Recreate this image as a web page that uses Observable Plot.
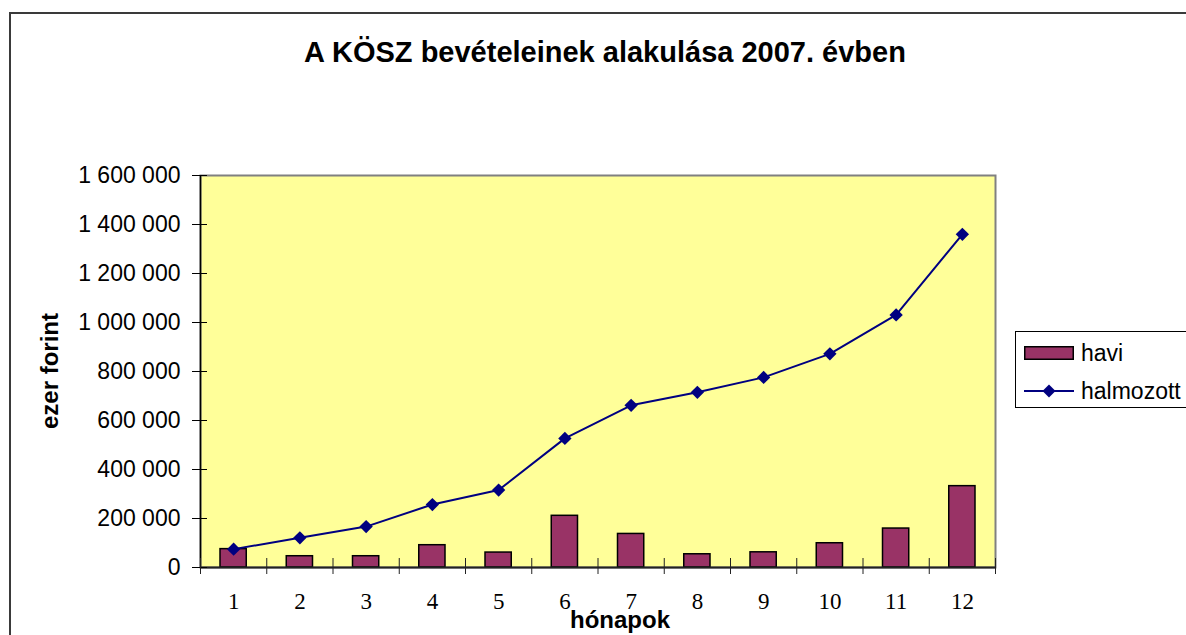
<!DOCTYPE html>
<html>
<head>
<meta charset="utf-8">
<script src="https://cdn.jsdelivr.net/npm/d3@7"></script>
<script src="https://cdn.jsdelivr.net/npm/@observablehq/plot@0.6"></script>
<style>
  html, body { margin: 0; padding: 0; background: white; }
  #wrap { position: relative; width: 1186px; height: 635px; overflow: hidden; background: white; font-family: "Liberation Sans", Arial, sans-serif; color: black; }
  #chart { position: absolute; left: 0; top: 0; }
  #border { position: absolute; left: 9px; top: 12px; width: 1300px; height: 800px; border-left: 2px solid #3a3a3a; border-top: 2px solid #3a3a3a; box-sizing: border-box; }
  #title { position: absolute; left: 605px; top: 38px; transform: translateX(-50%); font-size: 29px; line-height: 1; font-weight: bold; white-space: nowrap; }
  #ylab { position: absolute; left: 50px; top: 371px; transform: translate(-50%, -50%) rotate(-90deg); font-size: 24px; line-height: 1; font-weight: bold; white-space: nowrap; }
  #xlab { position: absolute; left: 620px; top: 608px; transform: translateX(-50%); font-size: 24px; line-height: 1; font-weight: bold; white-space: nowrap; }
  #legend { position: absolute; left: 1015px; top: 331px; width: 190px; height: 77px; border: 1px solid black; box-sizing: border-box; background: white; }
  .leg-item { position: absolute; left: 8px; height: 30px; display: flex; align-items: center; font-size: 23px; white-space: nowrap; }
  .leg-item svg { margin-right: 7px; }
</style>
</head>
<body>
<div id="wrap">
  <div id="chart"></div>
  <div id="border"></div>
  <div id="title">A KÖSZ bevételeinek alakulása 2007. évben</div>
  <div id="ylab">ezer forint</div>
  <div id="xlab">hónapok</div>
  <div id="legend">
    <div class="leg-item" style="top:6px">
      <svg width="50" height="14"><rect x="0.75" y="0.75" width="48.5" height="12.5" fill="#993366" stroke="black" stroke-width="1.5"></rect></svg><span id="leg1"></span>
    </div>
    <div class="leg-item" style="top:44px">
      <svg width="50" height="14"><line x1="0" y1="7" x2="50" y2="7" stroke="#000080" stroke-width="2"></line><path d="M25,0.5 L31.5,7 L25,13.5 L18.5,7 Z" fill="#000080"></path></svg><span id="leg2"></span>
    </div>
  </div>
</div>
<script>
// ---- data ----
const months = [1, 2, 3, 4, 5, 6, 7, 8, 9, 10, 11, 12];
const havi = [75000, 46000, 46000, 91000, 61000, 211000, 137000, 54000, 62000, 99000, 159000, 332000];
const halmozott = [75000, 121000, 167000, 257000, 316000, 527000, 662000, 715000, 776000, 872000, 1031000, 1360000];
const yTicks = [0, 200000, 400000, 600000, 800000, 1000000, 1200000, 1400000, 1600000];
const seriesNames = ["havi", "halmozott"];

document.getElementById("leg1").textContent = seriesNames[0];
document.getElementById("leg2").textContent = seriesNames[1];

const data = months.map((m, i) => ({m, havi: havi[i], halmozott: halmozott[i]}));
const bounds = months.map(m => m - 0.5).concat([months[months.length - 1] + 0.5]);
const fmt = d => d3.format(",")(d).replace(/,/g, " ");
const sans = "Liberation Sans, Arial, sans-serif";
const serif = "Liberation Serif, Times New Roman, serif";

const chart = Plot.plot({
  width: 1186,
  height: 635,
  marginLeft: 200,
  marginRight: 191,
  marginTop: 175,
  marginBottom: 68,
  style: {background: "transparent", fontFamily: sans, fontSize: "23px", color: "black"},
  x: {domain: [bounds[0], bounds[bounds.length - 1]], label: null},
  y: {domain: [0, 1600000], label: null},
  marks: [
    Plot.frame({fill: "#FFFF99", stroke: "#808080", strokeWidth: 2}),
    Plot.rectY(data, {x1: d => d.m - 0.5, x2: d => d.m + 0.5, y: "havi", insetLeft: 20, insetRight: 20, fill: "#993366", stroke: "black", strokeWidth: 1.5}),
    Plot.ruleX([bounds[0]], {stroke: "black", strokeWidth: 1.5}),
    Plot.ruleY([0], {stroke: "#222", strokeWidth: 2}),
    Plot.axisY({ticks: yTicks, tickSize: 8, tickPadding: 12, tickFormat: fmt, fontSize: 23, fontFamily: sans, stroke: "black"}),
    Plot.axisY({ticks: yTicks, tickSize: -7, tickFormat: () => "", stroke: "black"}),
    Plot.axisX({ticks: bounds, tickSize: 7, tickFormat: () => "", stroke: "#222"}),
    Plot.axisX({ticks: bounds, tickSize: -9, tickFormat: () => "", stroke: "#222"}),
    Plot.axisX({ticks: months, tickSize: 0, tickPadding: 25, tickFormat: d => String(d), fontSize: 23, fontFamily: serif}),
    Plot.line(data, {x: "m", y: "halmozott", stroke: "#000080", strokeWidth: 2}),
    Plot.dot(data, {x: "m", y: "halmozott", symbol: "diamond2", r: 6, fill: "#000080", stroke: "none"})
  ]
});
document.getElementById("chart").appendChild(chart);
</script>
</body>
</html>
